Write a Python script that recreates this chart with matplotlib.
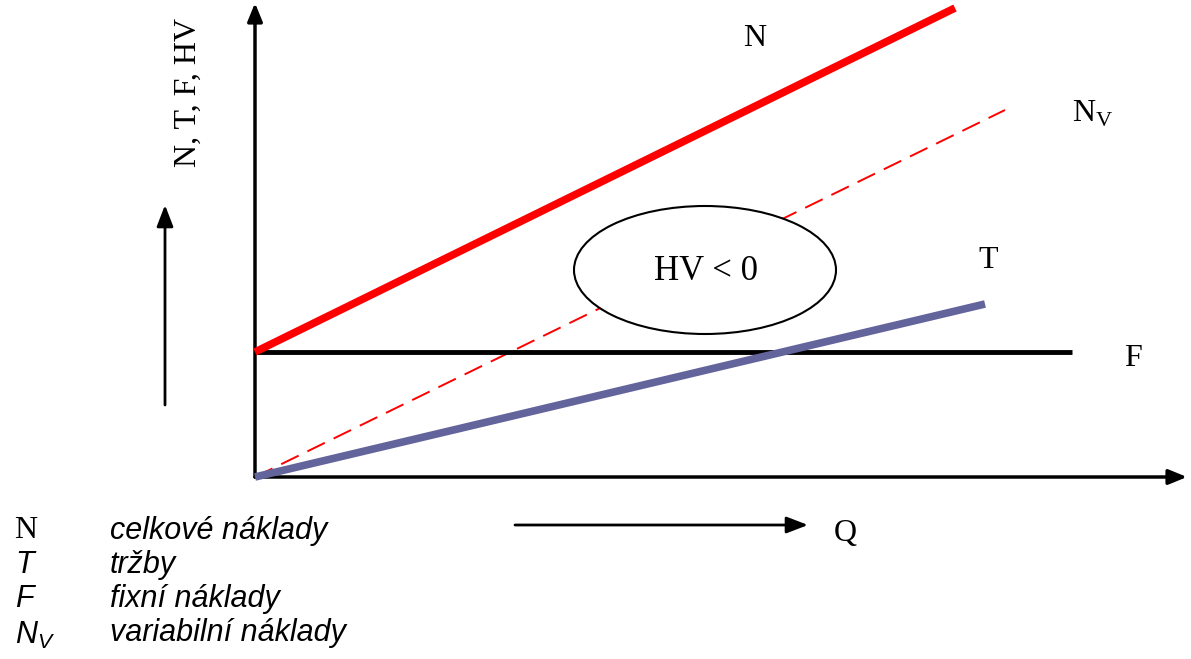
import matplotlib.pyplot as plt
from matplotlib.patches import Ellipse

# Break-even style diagram: costs / revenue vs. quantity Q
# (values in drawing units, origin at the axes crossing)
q_N = [0, 700]
N = [125, 469]          # total costs
q_Nv = [0, 750]
Nv = [0, 367]           # variable costs
q_F = [0, 817]
F = [125, 125]          # fixed costs
q_T = [0, 730]
T = [0, 173]            # revenue

legend_sym = ["N", "T", "F", "N_V"]
legend_txt = ["celkové náklady", "tržby", "fixní náklady", "variabilní náklady"]

serif = "Liberation Serif"
sans = "Liberation Sans"

plt.rcParams["mathtext.fontset"] = "custom"
plt.rcParams["mathtext.it"] = "Liberation Sans:italic"
plt.rcParams["mathtext.rm"] = "Liberation Sans"

fig = plt.figure(figsize=(11.91, 6.59), dpi=100)
ax = fig.add_axes([0, 0, 1, 1])
ax.set_xlim(-255, 936)
ax.set_ylim(-182, 477)
ax.axis("off")

# axes with arrow heads
arrow = dict(arrowstyle="-|>,head_length=1.1,head_width=0.45", color="black", lw=2.5,
             shrinkA=0, shrinkB=0)
ax.annotate("", xy=(0, 474), xytext=(0, 0), arrowprops=arrow)
ax.annotate("", xy=(932, 0), xytext=(0, 0), arrowprops=arrow)

# lines
ax.plot(q_F, F, color="black", lw=3.5, solid_capstyle="butt", zorder=3)
ax.plot(q_Nv, Nv, color="red", lw=1.4, dashes=(10, 5), zorder=2)
ax.plot(q_T, T, color="#64649c", lw=5.5, solid_capstyle="butt", zorder=4)
ax.plot(q_N, N, color="red", lw=5.5, solid_capstyle="butt", zorder=4)

# curve labels
lbl = dict(family=serif, fontsize=23, ha="center", va="center")
ax.text(500, 438, "N", **lbl)
ax.text(838, 363, "N$_\\mathregular{V}$", **lbl)
ax.text(733, 217, "T", **lbl)
ax.text(878, 119, "F", **lbl)

# loss region
ax.add_patch(Ellipse((450, 207), 262, 128, fill=False, ec="black", lw=1.5, zorder=5))
ax.add_patch(Ellipse((450, 207), 260, 126, fc="white", ec="none", zorder=4.5))
ax.text(451, 206, "HV < 0", family=serif, fontsize=25, ha="center", va="center", zorder=6)

# side arrows and axis titles
side = dict(arrowstyle="-|>,head_length=1.3,head_width=0.5", color="black", lw=2,
            shrinkA=0, shrinkB=0)
ax.annotate("", xy=(-90, 272), xytext=(-90, 72), arrowprops=side)
ax.text(-67, 385, "N, T, F, HV", family=serif, fontsize=23, rotation=90,
        ha="center", va="center")
ax.annotate("", xy=(553, -48), xytext=(260, -48), arrowprops=side)
ax.text(590, -57, "Q", family=serif, fontsize=23, ha="center", va="center")

# legend
for i, (s, t) in enumerate(zip(legend_sym, legend_txt)):
    y = -54 - i * 34
    if s == "N":
        ax.text(-241, y, s, family=serif, fontsize=23, ha="left", va="center")
    elif s == "N_V":
        ax.text(-240, y - 2, "$N_V$", family=sans, fontsize=22, ha="left", va="center")
    else:
        ax.text(-240, y, s, family=sans, style="italic", fontsize=22, ha="left", va="center")
    ax.text(-145, y, t, family=sans, style="italic", fontsize=22, ha="left", va="center")

fig.savefig("out.png", dpi=100)
